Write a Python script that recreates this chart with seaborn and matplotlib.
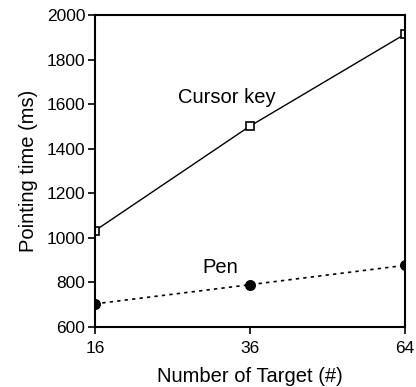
import matplotlib
matplotlib.use("Agg")
import matplotlib.pyplot as plt
import seaborn as sns
import pandas as pd

targets = ["16", "36", "64"]
cursor_key = [1032, 1502, 1915]
pen = [704, 790, 877]

sns.set_style("ticks")
plt.rcParams["font.family"] = ["Liberation Sans", "DejaVu Sans"]

fig = plt.figure(figsize=(4.16, 3.87), dpi=100)
ax = fig.add_axes([0.228, 0.155, 0.746, 0.806])

df_c = pd.DataFrame({"x": targets, "y": cursor_key})
df_p = pd.DataFrame({"x": targets, "y": pen})

sns.pointplot(data=df_c, x="x", y="y", ax=ax, color="black", markers="s",
              linestyles="-", markersize=6, linewidth=1.0,
              markerfacecolor="white", markeredgecolor="black", markeredgewidth=1.2)
sns.pointplot(data=df_p, x="x", y="y", ax=ax, color="black", markers="o",
              linestyles=(0, (2, 2.5)), markersize=7, linewidth=1.2)

ax.set_xlim(0, 2)
ax.set_ylim(600, 2000)
ax.set_yticks([600, 800, 1000, 1200, 1400, 1600, 1800, 2000])
for s in ax.spines.values():
    s.set_visible(True)
    s.set_linewidth(1.5)
    s.set_color("black")
ax.tick_params(axis="both", direction="out", length=5, width=1.2, labelsize=12.5,
               colors="black", labelcolor="black")
ax.tick_params(axis="x", pad=5)
ax.tick_params(axis="y", pad=2)
ax.set_xlabel("Number of Target (#)", fontsize=14.5, labelpad=8, color="black")
ax.set_ylabel("Pointing time (ms)", fontsize=14.5, labelpad=6, color="black")

ax.text(0.85, 1632, "Cursor key", fontsize=14.5, ha="center", va="center", color="black")
ax.text(0.81, 869, "Pen", fontsize=14.5, ha="center", va="center", color="black")

fig.savefig("out.png", dpi=100)
